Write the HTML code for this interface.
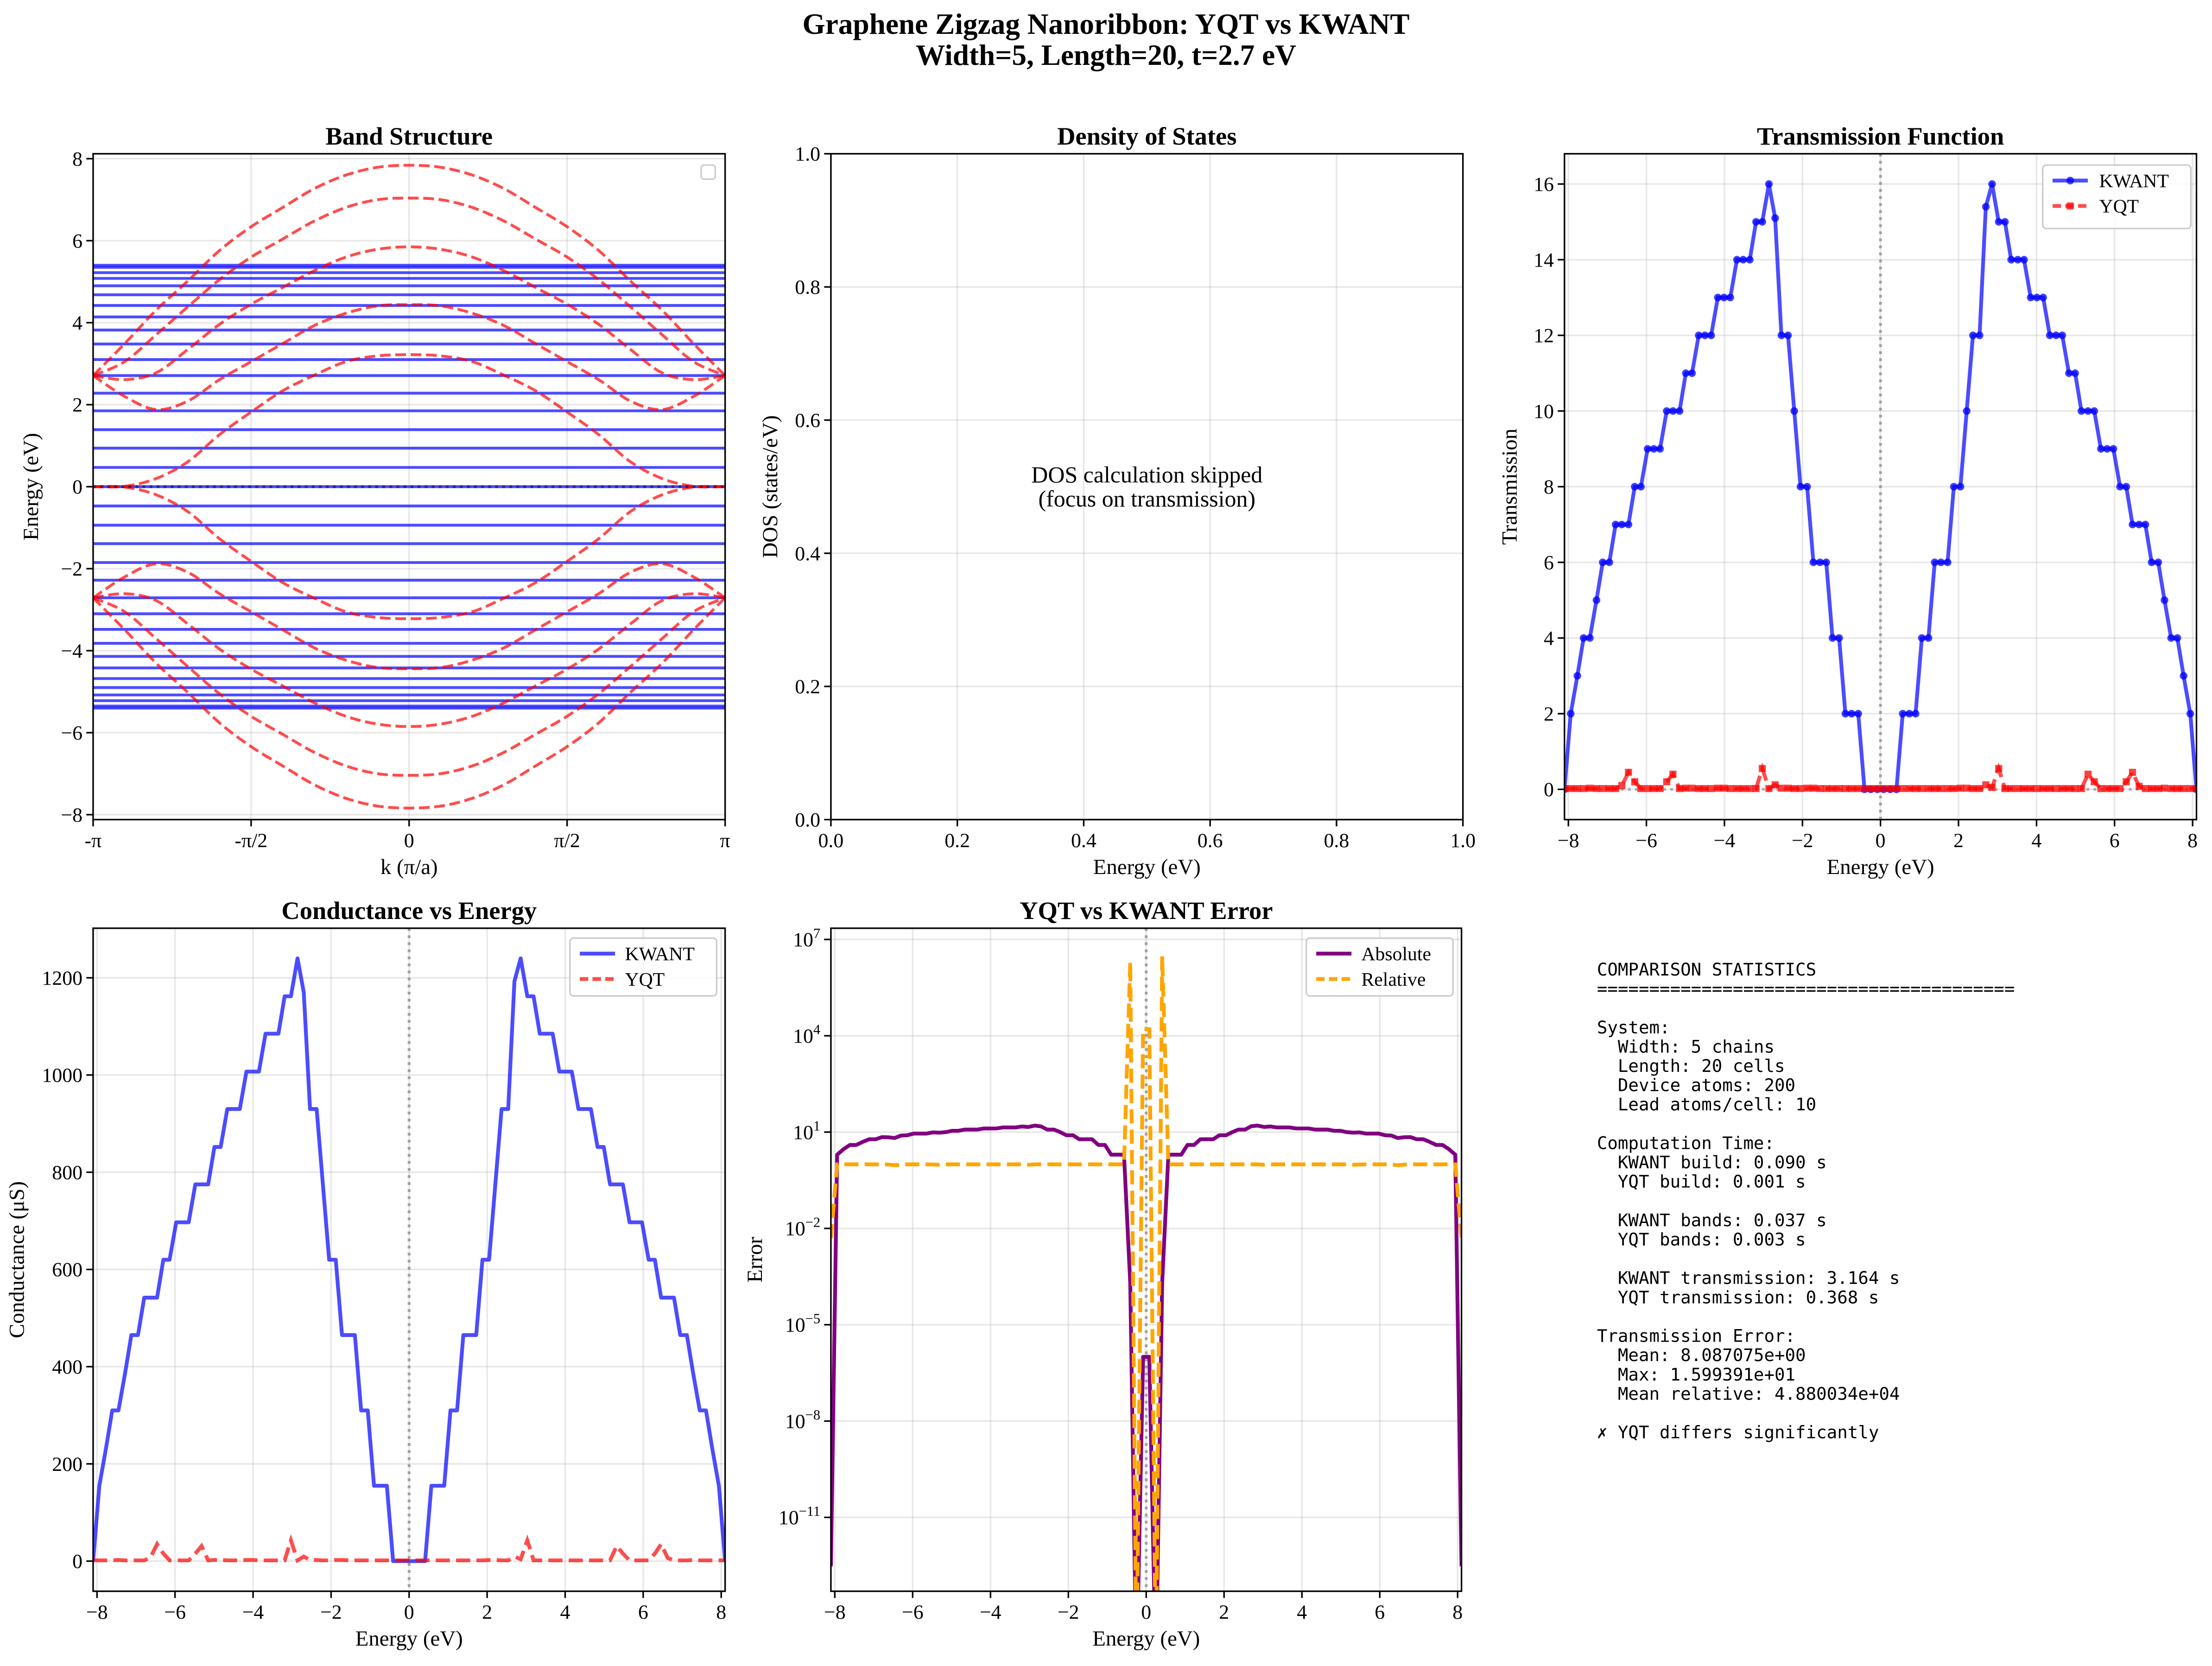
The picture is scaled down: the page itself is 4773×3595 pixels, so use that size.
<!DOCTYPE html>
<html>
<head>
<meta charset="utf-8">
<style>
html,body{margin:0;padding:0;background:#fff;}
svg{display:block;}
</style>
</head>
<body>
<svg id="fig" xmlns="http://www.w3.org/2000/svg" width="4773" height="3595" viewBox="0 0 1568 1181" preserveAspectRatio="none" font-family="'Liberation Serif', 'DejaVu Serif', serif">
<rect x="0" y="0" width="1568" height="1181" fill="#ffffff"/>
<text x="784" y="24" text-anchor="middle" font-size="20.8" font-weight="bold">Graphene Zigzag Nanoribbon: YQT vs KWANT</text>
<text x="784" y="46" text-anchor="middle" font-size="20.8" font-weight="bold">Width=5, Length=20, t=2.7 eV</text>
<g id="stats" font-family="'DejaVu Sans Mono', 'Liberation Mono', monospace" font-size="12.3"></g>
</svg>
<script>
// ---------- data ----------
const bandK = [-1,-0.9,-0.8,-0.7,-0.6,-0.5,-0.4,-0.3,-0.2,-0.1,0,0.1,0.2,0.3,0.4,0.5,0.6,0.7,0.8,0.9,1];
const bandA = [2.71,3.49,4.31,5.02,5.76,6.34,6.81,7.27,7.60,7.79,7.84,7.79,7.60,7.27,6.81,6.34,5.76,5.02,4.31,3.49,2.71];
const bandB = [2.71,3.05,3.71,4.39,5.05,5.60,6.04,6.48,6.81,7.00,7.04,7.00,6.81,6.48,6.04,5.60,5.05,4.39,3.71,3.05,2.71];
const bandC = [2.71,2.61,2.78,3.35,3.96,4.45,4.86,5.27,5.60,5.79,5.85,5.79,5.60,5.27,4.86,4.45,3.96,3.35,2.78,2.61,2.71];
const bandD = [2.71,2.20,1.88,2.09,2.61,3.05,3.49,3.93,4.23,4.41,4.44,4.41,4.23,3.93,3.49,3.05,2.61,2.09,1.88,2.20,2.71];
const bandE = [0,0.01,0.2,0.61,1.27,1.82,2.34,2.72,3.05,3.19,3.22,3.19,3.05,2.72,2.34,1.82,1.27,0.61,0.2,0.01,0];
const bandEm = [0,-0.01,-0.2,-0.61,-1.27,-1.82,-2.34,-2.72,-3.05,-3.19,-3.22,-3.19,-3.05,-2.72,-2.34,-1.82,-1.27,-0.61,-0.2,-0.01,0];
const bandDm = [-2.71,-2.20,-1.88,-2.09,-2.61,-3.05,-3.49,-3.93,-4.23,-4.41,-4.44,-4.41,-4.23,-3.93,-3.49,-3.05,-2.61,-2.09,-1.88,-2.20,-2.71];
const bandCm = [-2.71,-2.61,-2.78,-3.35,-3.96,-4.45,-4.86,-5.27,-5.60,-5.79,-5.85,-5.79,-5.60,-5.27,-4.86,-4.45,-3.96,-3.35,-2.78,-2.61,-2.71];
const bandBm = [-2.71,-3.05,-3.71,-4.39,-5.05,-5.60,-6.04,-6.48,-6.81,-7.00,-7.04,-7.00,-6.81,-6.48,-6.04,-5.60,-5.05,-4.39,-3.71,-3.05,-2.71];
const bandAm = [-2.71,-3.49,-4.31,-5.02,-5.76,-6.34,-6.81,-7.27,-7.60,-7.79,-7.84,-7.79,-7.60,-7.27,-6.81,-6.34,-5.76,-5.02,-4.31,-3.49,-2.71];
const kwantLevels = [5.40,5.35,5.22,5.08,4.90,4.68,4.42,4.14,3.82,3.48,3.10,2.71,2.28,1.85,1.39,0.94,0.47,0,-0.47,-0.94,-1.39,-1.85,-2.28,-2.71,-3.10,-3.48,-3.82,-4.14,-4.42,-4.68,-4.90,-5.08,-5.22,-5.35,-5.40];

const energies = [-8.10,-7.94,-7.77,-7.61,-7.45,-7.28,-7.12,-6.95,-6.79,-6.63,-6.46,-6.30,-6.14,-5.97,-5.81,-5.65,-5.48,-5.32,-5.15,-4.99,-4.83,-4.66,-4.50,-4.34,-4.17,-4.01,-3.85,-3.68,-3.52,-3.35,-3.19,-3.03,-2.86,-2.70,-2.54,-2.37,-2.21,-2.05,-1.88,-1.72,-1.55,-1.39,-1.23,-1.06,-0.90,-0.74,-0.57,-0.41,-0.25,-0.08,0.08,0.25,0.41,0.57,0.74,0.90,1.06,1.23,1.39,1.55,1.72,1.88,2.05,2.21,2.37,2.54,2.70,2.86,3.03,3.19,3.35,3.52,3.68,3.85,4.01,4.17,4.34,4.50,4.66,4.83,4.99,5.15,5.32,5.48,5.65,5.81,5.97,6.14,6.30,6.46,6.63,6.79,6.95,7.12,7.28,7.45,7.61,7.77,7.94,8.10];
const transKwant = [0,2,3,4,4,5,6,6,7,7,7,8,8,9,9,9,10,10,10,11,11,12,12,12,13,13,13,14,14,14,15,15,16,15.1,12,12,10,8,8,6,6,6,4,4,2,2,2,0,0,0,0,0,0,2,2,2,4,4,6,6,6,8,8,10,12,12,15.4,16,15,15,14,14,14,13,13,13,12,12,12,11,11,10,10,10,9,9,9,8,8,7,7,7,6,6,5,4,4,3,2,0];
const transYqt = [0.02,0.02,0.02,0.02,0.03,0.02,0.02,0.02,0.02,0.1,0.45,0.2,0.02,0.02,0.02,0.02,0.2,0.4,0.02,0.03,0.03,0.02,0.02,0.02,0.03,0.03,0.02,0.02,0.02,0.02,0.02,0.55,0.02,0.12,0.03,0.03,0.02,0.02,0.03,0.03,0.02,0.02,0.02,0.02,0.02,0.02,0.02,0.02,0.02,0.02,0.02,0.02,0.02,0.02,0.02,0.02,0.02,0.02,0.02,0.02,0.02,0.02,0.03,0.03,0.02,0.02,0.12,0.05,0.55,0.02,0.02,0.02,0.02,0.02,0.02,0.02,0.02,0.02,0.02,0.02,0.02,0.02,0.4,0.2,0.02,0.02,0.02,0.02,0.2,0.45,0.08,0.02,0.02,0.02,0.03,0.02,0.02,0.02,0.02,0.02];
const condKwant = [0,155,232,310,310,387,465,465,542,542,542,620,620,697,697,697,775,775,775,852,852,930,930,930,1007,1007,1007,1085,1085,1085,1162,1162,1240,1170,930,930,775,620,620,465,465,465,310,310,155,155,155,0,0,0,0,0,0,155,155,155,310,310,465,465,465,620,620,775,930,930,1193,1240,1162,1162,1085,1085,1085,1007,1007,1007,930,930,930,852,852,775,775,775,697,697,697,620,620,542,542,542,465,465,387,310,310,232,155,0];
const condYqt = [1.5,1.5,1.5,1.5,2.3,1.5,1.5,1.5,1.5,7.7,34.9,15.5,1.5,1.5,1.5,1.5,15.5,31,1.5,2.3,2.3,1.5,1.5,1.5,2.3,2.3,1.5,1.5,1.5,1.5,1.5,42.6,1.5,9.3,2.3,2.3,1.5,1.5,2.3,2.3,1.5,1.5,1.5,1.5,1.5,1.5,1.5,1.5,1.5,1.5,1.5,1.5,1.5,1.5,1.5,1.5,1.5,1.5,1.5,1.5,1.5,1.5,2.3,2.3,1.5,1.5,9.3,3.9,42.6,1.5,1.5,1.5,1.5,1.5,1.5,1.5,1.5,1.5,1.5,1.5,1.5,1.5,31,15.5,1.5,1.5,1.5,1.5,15.5,34.9,6.2,1.5,1.5,1.5,2.3,1.5,1.5,1.5,1.5,1.5];
const absErr = [3e-13,1.98,2.98,3.98,3.97,4.98,5.98,5.98,6.98,6.9,6.55,7.8,7.98,8.98,8.98,8.98,9.8,9.6,9.98,10.97,10.97,11.98,11.98,11.98,12.97,12.97,12.98,13.98,13.98,13.98,14.98,14.45,15.98,14.98,11.97,11.97,9.98,7.98,7.97,5.97,5.98,5.98,3.98,3.98,1.98,1.98,1.98,2e-4,1e-16,1e-6,1e-6,1e-16,2e-4,1.98,1.98,1.98,3.98,3.98,5.98,5.98,5.98,7.98,7.97,9.97,11.98,11.98,15.28,15.95,14.45,14.98,13.98,13.98,13.98,12.98,12.98,12.98,11.98,11.98,11.98,10.98,10.98,9.98,9.6,9.8,8.98,8.98,8.98,7.98,7.8,6.55,6.92,6.98,5.98,5.98,4.97,3.98,3.98,2.98,1.98,3e-13];
const relErr = [5e-3,0.99,0.99,0.99,0.99,0.99,0.99,0.99,0.99,0.98,0.93,0.97,0.99,0.99,0.99,0.99,0.98,0.96,0.99,0.99,0.99,0.99,0.99,0.99,0.99,0.99,0.99,0.99,0.99,0.99,0.99,0.96,0.99,0.99,0.99,0.99,0.99,0.99,0.99,0.99,0.99,0.99,0.99,0.99,0.99,0.99,0.99,2e6,1e-16,1.6e4,1.6e4,1e-16,3e6,0.99,0.99,0.99,0.99,0.99,0.99,0.99,0.99,0.99,0.99,0.99,0.99,0.99,0.99,0.99,0.96,0.99,0.99,0.99,0.99,0.99,0.99,0.99,0.99,0.99,0.99,0.99,0.99,0.99,0.96,0.98,0.99,0.99,0.99,0.99,0.98,0.93,0.97,0.99,0.99,0.99,0.99,0.99,0.99,0.99,0.99,5e-3];

const eTicks = [-8,-6,-4,-2,0,2,4,6,8];
const bandYTicks = [-8,-6,-4,-2,0,2,4,6,8];
const kTicks = [-1,-0.5,0,0.5,1];
const kTickLabels = ['-π','-π/2','0','π/2','π'];
const dosTicks = [0,0.2,0.4,0.6,0.8,1.0];
const transTicks = [0,2,4,6,8,10,12,14,16];
const condTicks = [0,200,400,600,800,1000,1200];
const errExpTicks = [-11,-8,-5,-2,1,4,7];

const statsLines = ['COMPARISON STATISTICS','========================================','','System:','  Width: 5 chains','  Length: 20 cells','  Device atoms: 200','  Lead atoms/cell: 10','','Computation Time:','  KWANT build: 0.090 s','  YQT build: 0.001 s','','  KWANT bands: 0.037 s','  YQT bands: 0.003 s','','  KWANT transmission: 3.164 s','  YQT transmission: 0.368 s','','Transmission Error:','  Mean: 8.087075e+00','  Max: 1.599391e+01','  Mean relative: 4.880034e+04','','✗ YQT differs significantly'];

const TICK_FS = 14.4, LABEL_FS = 15.4, TITLE_FS = 17.9;

// ---------- helpers ----------
const NS = 'http://www.w3.org/2000/svg';
const svg = document.getElementById('fig');
function mk(tag, attrs, parent){
  const el = document.createElementNS(NS, tag);
  for (const k in attrs) el.setAttribute(k, attrs[k]);
  (parent || svg).appendChild(el);
  return el;
}
function minus(s){ return String(s).replace('-', '\u2212'); }
function makeAxes(name, x0, x1, y0, y1, xd, yd, logY){
  const g = mk('g', {});
  
  
  const sx = v => x0 + (v - xd[0]) / (xd[1] - xd[0]) * (x1 - x0);
  const sy = v => {
    const t = logY ? Math.log10(Math.max(v, 1e-300)) : v;
    return y1 - (t - yd[0]) / (yd[1] - yd[0]) * (y1 - y0);
  };
  const id = 'clip-' + name;
  const cp = mk('clipPath', {id: id}, g);
  mk('rect', {x: x0, y: y0, width: x1 - x0, height: y1 - y0}, cp);
  const gridG = mk('g', {}, g);
  
  
  const plotG = mk('g', {'clip-path': 'url(#' + id + ')'}, g);
  
  
  const topG = mk('g', {}, g);
  return {g, gridG, plotG, topG, sx, sy, x0, x1, y0, y1};
}
function frame(ax, name){
  const r = mk('rect', {x: ax.x0, y: ax.y0, width: ax.x1 - ax.x0, height: ax.y1 - ax.y0, fill: 'none', stroke: '#000', 'stroke-width': 1.1}, ax.topG);
  
  
}
function xTicks(ax, vals, labels, name, grid){
  vals.forEach((v, i) => {
    const x = ax.sx(v);
    if (grid) {
      const gl = mk('line', {x1: x, x2: x, y1: ax.y0, y2: ax.y1, stroke: '#b0b0b0', 'stroke-opacity': 0.3, 'stroke-width': 1.1}, ax.gridG);
      
      
    }
    const tk = mk('line', {x1: x, x2: x, y1: ax.y1, y2: ax.y1 + 4.8, stroke: '#000', 'stroke-width': 1.1}, ax.topG);
    
    
    const t = mk('text', {x: x, y: ax.y1 + 19.5, 'text-anchor': 'middle', 'font-size': TICK_FS}, ax.topG);
    t.textContent = labels[i];
    
    
  });
}
function yTicks(ax, vals, labels, name, grid){
  vals.forEach((v, i) => {
    const y = ax.sy(v);
    if (grid) {
      const gl = mk('line', {x1: ax.x0, x2: ax.x1, y1: y, y2: y, stroke: '#b0b0b0', 'stroke-opacity': 0.3, 'stroke-width': 1.1}, ax.gridG);
      
      
    }
    const tk = mk('line', {x1: ax.x0 - 4.8, x2: ax.x0, y1: y, y2: y, stroke: '#000', 'stroke-width': 1.1}, ax.topG);
    
    
    const t = mk('text', {x: ax.x0 - 7.5, y: y + 4.9, 'text-anchor': 'end', 'font-size': TICK_FS}, ax.topG);
    t.textContent = labels[i];
    
    
  });
}
function labels(ax, title, xl, yl, ylx, name){
  const t = mk('text', {x: (ax.x0 + ax.x1) / 2, y: ax.y0 - 6.5, 'text-anchor': 'middle', 'font-size': TITLE_FS, 'font-weight': 'bold'}, ax.topG);
  t.textContent = title;
  
  
  const x = mk('text', {x: (ax.x0 + ax.x1) / 2, y: ax.y1 + 38.5, 'text-anchor': 'middle', 'font-size': LABEL_FS}, ax.topG);
  x.textContent = xl;
  
  
  const cy = (ax.y0 + ax.y1) / 2;
  const y = mk('text', {x: ylx, y: cy, 'text-anchor': 'middle', 'font-size': LABEL_FS, transform: 'rotate(-90 ' + ylx + ' ' + cy + ')'}, ax.topG);
  y.textContent = yl;
  
  
}
function pathD(xs, ys, ax){
  return xs.map((v, i) => (i ? 'L' : 'M') + ax.sx(v).toFixed(2) + ' ' + ax.sy(ys[i]).toFixed(2)).join(' ');
}
function smoothD(xs, ys, ax){
  const P = xs.map((v, i) => [ax.sx(v), ax.sy(ys[i])]);
  let d = 'M' + P[0][0].toFixed(2) + ' ' + P[0][1].toFixed(2);
  for (let i = 0; i < P.length - 1; i++) {
    const p0 = P[Math.max(i - 1, 0)], p1 = P[i], p2 = P[i + 1], p3 = P[Math.min(i + 2, P.length - 1)];
    const c1 = [p1[0] + (p2[0] - p0[0]) / 6, p1[1] + (p2[1] - p0[1]) / 6];
    const c2 = [p2[0] - (p3[0] - p1[0]) / 6, p2[1] - (p3[1] - p1[1]) / 6];
    d += ' C' + c1[0].toFixed(2) + ' ' + c1[1].toFixed(2) + ' ' + c2[0].toFixed(2) + ' ' + c2[1].toFixed(2) + ' ' + p2[0].toFixed(2) + ' ' + p2[1].toFixed(2);
  }
  return d;
}
function legendBox(x, y, w, h, name){
  const r = mk('rect', {x: x, y: y, width: w, height: h, rx: 2.5, fill: '#fff', 'fill-opacity': 0.8, stroke: '#cccccc', 'stroke-width': 1.1});
  
  
}
function legendText(x, y, s, name){
  const t = mk('text', {x: x, y: y + 4.7, 'font-size': 13.7});
  t.textContent = s;
  
  
}

// ---------- Panel 1: Band structure ----------
const a1 = makeAxes('band-structure-axes', 66, 514, 109, 581, [-1, 1], [-8.12, 8.12], false);
xTicks(a1, kTicks, kTickLabels, 'band', true);
yTicks(a1, bandYTicks, bandYTicks.map(minus), 'band', true);
kwantLevels.forEach(e => {
  const y = a1.sy(e);
  const l = mk('line', {x1: a1.x0, x2: a1.x1, y1: y, y2: y, stroke: '#0000ff', 'stroke-opacity': 0.7, 'stroke-width': 2}, a1.plotG);
  
  
});
[bandA, bandB, bandC, bandD, bandE, bandEm, bandDm, bandCm, bandBm, bandAm].forEach(b => {
  const p = mk('path', {d: smoothD(bandK, b, a1), fill: 'none', stroke: '#ff0000', 'stroke-opacity': 0.7, 'stroke-width': 2, 'stroke-dasharray': '7.6 3.3'}, a1.plotG);
  
  
});
const zl = mk('line', {x1: a1.x0, x2: a1.x1, y1: a1.sy(0), y2: a1.sy(0), stroke: '#000', 'stroke-opacity': 0.45, 'stroke-width': 2, 'stroke-dasharray': '2 3'}, a1.plotG);


frame(a1, 'band');
labels(a1, 'Band Structure', 'k (π/a)', 'Energy (eV)', 27, 'band');
const emptyLeg = mk('rect', {x: 497, y: 117, width: 10, height: 10, rx: 2, fill: '#fff', stroke: '#cccccc', 'stroke-width': 1.1});



// ---------- Panel 2: DOS ----------
const a2 = makeAxes('dos-axes', 589, 1037, 109, 581, [0, 1], [0, 1], false);
xTicks(a2, dosTicks, dosTicks.map(v => v.toFixed(1)), 'dos', true);
yTicks(a2, dosTicks, dosTicks.map(v => v.toFixed(1)), 'dos', true);
frame(a2, 'dos');
labels(a2, 'Density of States', 'Energy (eV)', 'DOS (states/eV)', 551, 'dos');
const d1 = mk('text', {x: a2.sx(0.5), y: 342, 'text-anchor': 'middle', 'font-size': 16.4});
d1.textContent = 'DOS calculation skipped';


const d2 = mk('text', {x: a2.sx(0.5), y: 359, 'text-anchor': 'middle', 'font-size': 16.4});
d2.textContent = '(focus on transmission)';



// ---------- Panel 3: Transmission ----------
const a3 = makeAxes('transmission-axes', 1109, 1557, 109, 581, [-8.1, 8.1], [-0.8, 16.8], false);
xTicks(a3, eTicks, eTicks.map(minus), 'trans', true);
yTicks(a3, transTicks, transTicks.map(String), 'trans', true);
const v3 = mk('line', {x1: a3.sx(0), x2: a3.sx(0), y1: a3.y0, y2: a3.y1, stroke: '#808080', 'stroke-opacity': 0.7, 'stroke-width': 2, 'stroke-dasharray': '2 3'}, a3.plotG);


const h3 = mk('line', {x1: a3.x0, x2: a3.x1, y1: a3.sy(0), y2: a3.sy(0), stroke: '#808080', 'stroke-opacity': 0.6, 'stroke-width': 2, 'stroke-dasharray': '2 3'}, a3.plotG);


const tk = mk('path', {d: pathD(energies, transKwant, a3), fill: 'none', stroke: '#0000ff', 'stroke-opacity': 0.7, 'stroke-width': 2.7, 'stroke-linejoin': 'round'}, a3.plotG);


energies.forEach((e, i) => {
  const c = mk('circle', {cx: a3.sx(e), cy: a3.sy(transKwant[i]), r: 2.7, fill: '#0000ff', 'fill-opacity': 0.75}, a3.plotG);
  
  
});
const ty = mk('path', {d: pathD(energies, transYqt, a3), fill: 'none', stroke: '#ff0000', 'stroke-opacity': 0.7, 'stroke-width': 2.7, 'stroke-dasharray': '10 4.4'}, a3.plotG);


energies.forEach((e, i) => {
  const s = mk('rect', {x: a3.sx(e) - 2.5, y: a3.sy(transYqt[i]) - 2.5, width: 5, height: 5, fill: '#ff0000', 'fill-opacity': 0.75}, a3.plotG);
  
  
});
frame(a3, 'trans');
labels(a3, 'Transmission Function', 'Energy (eV)', 'Transmission', 1075, 'trans');
legendBox(1448, 117, 105, 45, 'transmission-legend');
const lk3 = mk('line', {x1: 1455, x2: 1480, y1: 128, y2: 128, stroke: '#0000ff', 'stroke-opacity': 0.7, 'stroke-width': 2.7});


const lkc = mk('circle', {cx: 1467.5, cy: 128, r: 2.7, fill: '#0000ff', 'fill-opacity': 0.75});


legendText(1488, 128, 'KWANT', 'legend-kwant-label');
const ly3 = mk('line', {x1: 1455, x2: 1480, y1: 146, y2: 146, stroke: '#ff0000', 'stroke-opacity': 0.7, 'stroke-width': 2.7, 'stroke-dasharray': '6 3'});


const lys = mk('rect', {x: 1465, y: 143.5, width: 5, height: 5, fill: '#ff0000', 'fill-opacity': 0.75});


legendText(1488, 146, 'YQT', 'legend-yqt-label');

// ---------- Panel 4: Conductance ----------
const a4 = makeAxes('conductance-axes', 66, 514, 658, 1128, [-8.1, 8.1], [-62, 1302], false);
xTicks(a4, eTicks, eTicks.map(minus), 'cond', true);
yTicks(a4, condTicks, condTicks.map(String), 'cond', true);
const v4 = mk('line', {x1: a4.sx(0), x2: a4.sx(0), y1: a4.y0, y2: a4.y1, stroke: '#808080', 'stroke-opacity': 0.7, 'stroke-width': 2, 'stroke-dasharray': '2 3'}, a4.plotG);


const ck = mk('path', {d: pathD(energies, condKwant, a4), fill: 'none', stroke: '#0000ff', 'stroke-opacity': 0.7, 'stroke-width': 2.7, 'stroke-linejoin': 'round'}, a4.plotG);


const cyq = mk('path', {d: pathD(energies, condYqt, a4), fill: 'none', stroke: '#ff0000', 'stroke-opacity': 0.7, 'stroke-width': 2.7, 'stroke-dasharray': '10 4.4'}, a4.plotG);


frame(a4, 'cond');
labels(a4, 'Conductance vs Energy', 'Energy (eV)', 'Conductance (μS)', 17, 'cond');
legendBox(404, 665, 104, 41, 'conductance-legend');
const lk4 = mk('line', {x1: 411, x2: 436, y1: 676, y2: 676, stroke: '#0000ff', 'stroke-opacity': 0.7, 'stroke-width': 2.7});


legendText(443, 676, 'KWANT', 'legend-kwant-label');
const ly4 = mk('line', {x1: 411, x2: 436, y1: 694, y2: 694, stroke: '#ff0000', 'stroke-opacity': 0.7, 'stroke-width': 2.7, 'stroke-dasharray': '6 3'});


legendText(443, 694, 'YQT', 'legend-yqt-label');

// ---------- Panel 5: Error ----------
const a5 = makeAxes('error-axes', 589, 1036, 658, 1128, [-8.1, 8.1], [-13.3, 7.35], true);
xTicks(a5, eTicks, eTicks.map(minus), 'err', true);
errExpTicks.forEach(p => {
  const y = a5.sy(Math.pow(10, p));
  const gl = mk('line', {x1: a5.x0, x2: a5.x1, y1: y, y2: y, stroke: '#b0b0b0', 'stroke-opacity': 0.3, 'stroke-width': 1.1}, a5.gridG);
  
  
  const tkl = mk('line', {x1: a5.x0 - 4.8, x2: a5.x0, y1: y, y2: y, stroke: '#000', 'stroke-width': 1.1}, a5.topG);
  
  
  const t = mk('text', {x: a5.x0 - 7.5, y: y + 4.9, 'text-anchor': 'end', 'font-size': TICK_FS}, a5.topG);
  
  
  const base = document.createTextNode('10');
  t.appendChild(base);
  const sup = mk('tspan', {dy: -6, 'font-size': 10}, t);
  sup.textContent = minus(p);
});
const v5 = mk('line', {x1: a5.sx(0), x2: a5.sx(0), y1: a5.y0, y2: a5.y1, stroke: '#808080', 'stroke-opacity': 0.7, 'stroke-width': 2, 'stroke-dasharray': '2 3'}, a5.plotG);


const ea = mk('path', {d: pathD(energies, absErr, a5), fill: 'none', stroke: '#800080', 'stroke-width': 2.7, 'stroke-linejoin': 'round'}, a5.plotG);


const er = mk('path', {d: pathD(energies, relErr, a5), fill: 'none', stroke: '#ffa500', 'stroke-width': 2.7, 'stroke-dasharray': '10 4.4'}, a5.plotG);


frame(a5, 'err');
labels(a5, 'YQT vs KWANT Error', 'Energy (eV)', 'Error', 540, 'err');
legendBox(926, 665, 104, 41, 'error-legend');
const la5 = mk('line', {x1: 933, x2: 958, y1: 676, y2: 676, stroke: '#800080', 'stroke-width': 2.7});


legendText(965, 676, 'Absolute', 'legend-absolute-label');
const lr5 = mk('line', {x1: 933, x2: 958, y1: 694, y2: 694, stroke: '#ffa500', 'stroke-width': 2.7, 'stroke-dasharray': '6 3'});


legendText(965, 694, 'Relative', 'legend-relative-label');

// ---------- Stats text ----------
const sg = document.getElementById('stats');
statsLines.forEach((s, i) => {
  const t = mk('text', {x: 1132, y: 691.5 + i * 13.67, 'xml:space': 'preserve'}, sg);
  t.setAttribute('style', 'white-space:pre');
  t.textContent = s;
  
  
});
</script>
</body>
</html>
